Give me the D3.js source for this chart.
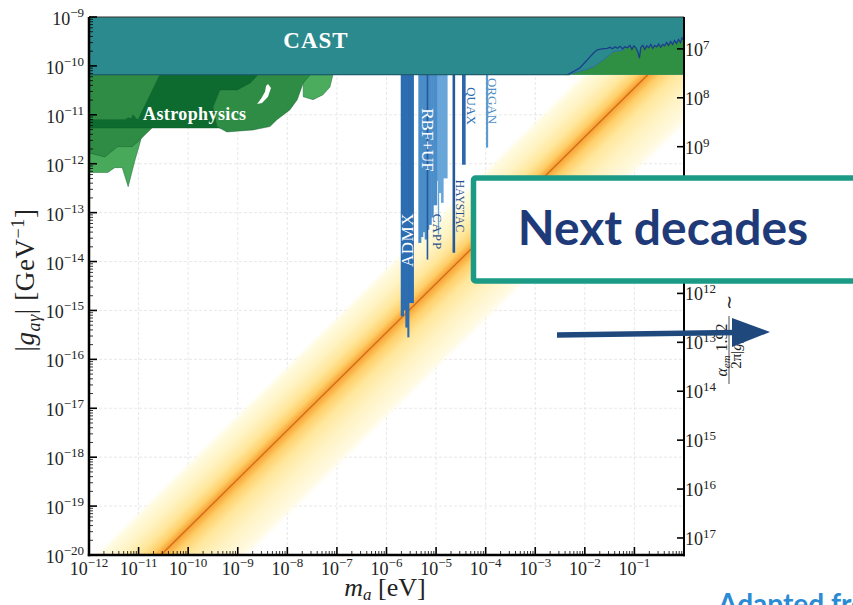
<!DOCTYPE html>
<html>
<head>
<meta charset="utf-8">
<script src="https://cdn.jsdelivr.net/npm/d3@7"></script>
<style>
  body { margin: 0; background: #fff; }
  svg  { display: block; }
</style>
</head>
<body>
<div id="chart"></div>
<script>
'use strict';

// every point is [log10(m_a / eV), log10(|g| / GeV^-1)]
const xTicks = d3.range(-12, 0);   // 10^-12 .. 10^-1
const yTicks = d3.range(-20, -8);  // 10^-20 .. 10^-9
const fTicks = d3.range(7, 18);    // 10^7 .. 10^17 (right axis)
const fConst = 2.23e-3;            // alpha_em * 1.92 / 2pi

const castLimit = -10.18;          // 6.6e-11
const castCurve = [[-2.35,-10.18],[-2.2,-10.10],[-2.1,-10.04],[-2.0,-9.93],[-1.9,-9.82],[-1.82,-9.73],
  [-1.75,-9.67],[-1.65,-9.65],[-1.55,-9.64],[-1.49,-9.62],[-1.44,-9.65],[-1.39,-9.61],[-1.34,-9.64],
  [-1.29,-9.60],[-1.24,-9.65],[-1.19,-9.61],[-1.14,-9.63],[-1.09,-9.58],[-1.05,-9.66],[-1.01,-9.59],
  [-0.97,-9.63],[-0.93,-9.72],[-0.90,-9.84],[-0.87,-9.62],[-0.83,-9.58],[-0.79,-9.66],[-0.75,-9.59],
  [-0.71,-9.63],[-0.67,-9.56],[-0.63,-9.64],[-0.59,-9.58],[-0.55,-9.61],[-0.51,-9.55],[-0.47,-9.62],
  [-0.43,-9.56],[-0.39,-9.59],[-0.35,-9.52],[-0.31,-9.58],[-0.27,-9.50],[-0.23,-9.56],[-0.19,-9.48],
  [-0.15,-9.54],[-0.11,-9.46],[-0.07,-9.52],[-0.04,-9.43],[0,-9.47]];
const castLower = [[-2.4,-10.18],[-2.24,-10.15],[-2.0,-10.08],[-1.83,-10.02],[-1.63,-9.88],[-1.43,-9.71],[-1.2,-9.67]];

// astrophysics bounds, drawn light -> dark
const astroLight = [[-12,-10.18],[-10.9,-10.18],[-10.9,-11.27],[-10.97,-11.57],[-11.07,-11.92],[-11.21,-12.47],
  [-11.33,-12.08],[-11.48,-12.08],[-11.62,-12.18],[-12,-12.18]];
const astroMid = [[-12,-10.18],[-10.57,-10.18],[-10.73,-11.27],[-10.87,-11.41],[-11.01,-11.55],[-11.13,-11.65],
  [-11.42,-11.65],[-11.68,-11.86],[-12,-11.78]];
const astroDark = [[-12,-11.10],[-11.27,-11.10],[-11.21,-11.06],[-11.15,-11.08],[-11.11,-11.00],[-11.05,-11.08],
  [-11.01,-11.10],[-10.57,-10.18],[-8.59,-10.18],[-8.95,-11.27],[-12,-11.27]];
const astroBlobLight = [[-7.68,-10.18],[-7.08,-10.18],[-7.14,-10.43],[-7.28,-10.59],[-7.48,-10.69],[-7.68,-10.63]];
const astroBlob = [[-8.59,-10.18],[-7.54,-10.18],[-7.68,-10.35],[-7.80,-10.69],[-7.95,-10.90],[-8.21,-11.10],
  [-8.35,-11.24],[-8.69,-11.31],[-9.22,-11.35],[-9.42,-11.24],[-9.50,-10.84],[-9.36,-10.49],[-9.01,-10.49],[-8.75,-10.35]];
const astroHole = [[-8.39,-10.37],[-8.33,-10.45],[-8.39,-10.63],[-8.51,-10.76],[-8.61,-10.78],[-8.53,-10.67],[-8.45,-10.53],[-8.43,-10.41]];

// haloscopes: [m from, m to, g reached]
const admx   = [[-5.713,-5.66,-15.12],[-5.66,-5.62,-15.0],[-5.62,-5.58,-15.35],[-5.58,-5.55,-15.55],[-5.55,-5.459,-14.85]];
const rbfUf  = [[-5.358,-5.31,-13.62],[-5.31,-5.27,-13.50],[-5.27,-5.23,-13.40],[-5.23,-5.19,-13.55],[-5.19,-5.15,-13.35],
  [-5.15,-5.10,-13.25],[-5.10,-5.06,-13.10],[-5.06,-4.99,-12.85]];
const capp   = [[-4.99,-4.95,-12.35],[-4.95,-4.90,-12.60],[-4.90,-4.86,-12.80],[-4.86,-4.78,-12.30],[-4.965,-4.95,-13.45]];
const sideLines = [[-5.19,-5.17,-13.96]];
const haystac = [[-4.668,-4.628,-13.82]];
const quax    = [[-4.477,-4.416,-12.02]];
const organ   = [[-3.993,-3.962,-11.67]];

// QCD axion band: central line g = m * 10^-9.45, band edges in decades of g
const qcdShift = -9.45;
const bandUp = 1.35, bandDown = 1.8;

const W = 853, H = 605;
const serif = "'Liberation Serif', 'Times New Roman', serif";
const sans  = "Lato, 'Open Sans', sans-serif";

const x = d3.scaleLog().domain([1e-12, 1]).range([89, 684]);
const y = d3.scaleLog().domain([1e-20, 1e-9]).range([555, 17]);
const yF = d3.scaleLog().domain([fConst / 1e-20, fConst / 1e-9]).range([555, 17]);
const px = d => x(Math.pow(10, d[0]));
const py = d => y(Math.pow(10, d[1]));
const path = d3.line().x(px).y(py);

let svg = d3.select('#chart').append('svg').attr('width', W).attr('height', H);
svg.append('defs').append('clipPath').attr('id', 'plotClip')
   .append('rect').attr('x', x(1e-12)).attr('y', y(1e-9))
   .attr('width', x(1) - x(1e-12)).attr('height', y(1e-20) - y(1e-9));

let plot = svg.append('g').attr('clip-path', 'url(#plotClip)');

// grid
plot.selectAll('.gx').data(xTicks.slice(1)).enter().append('line')
    .attr('x1', d => x(Math.pow(10, d))).attr('x2', d => x(Math.pow(10, d)))
    .attr('y1', y(1e-9)).attr('y2', y(1e-20))
    .attr('stroke', '#dedede').attr('stroke-width', 0.7).attr('stroke-dasharray', '3,2');
plot.selectAll('.gy').data(yTicks.slice(1, -1)).enter().append('line')
    .attr('x1', x(1e-12)).attr('x2', x(1))
    .attr('y1', d => y(Math.pow(10, d))).attr('y2', d => y(Math.pow(10, d)))
    .attr('stroke', '#dedede').attr('stroke-width', 0.7).attr('stroke-dasharray', '3,2');

// band gradient, perpendicular to the central line
let lm0 = -6, lg0 = lm0 + qcdShift;
let x0 = px([lm0, lg0]), y0 = py([lm0, lg0]);
let dx = px([lm0 + 1, lg0 + 1]) - x0, dy = py([lm0 + 1, lg0 + 1]) - y0;
let len = Math.hypot(dx, dy);
let n = [-dy / len, dx / len];               // points down-right
let sUp = (py([lm0, lg0 + bandUp]) - y0) * n[1];
let sDown = (py([lm0, lg0 - bandDown]) - y0) * n[1];
let grad = svg.select('defs').append('linearGradient').attr('id', 'band')
    .attr('gradientUnits', 'userSpaceOnUse')
    .attr('x1', x0 + sUp * n[0]).attr('y1', y0 + sUp * n[1])
    .attr('x2', x0 + sDown * n[0]).attr('y2', y0 + sDown * n[1]);
let stops = [[bandUp, '#fffbe0', 0], [1.2, '#fffbe0', 1], [0.8, '#fff3c2', 1], [0.45, '#ffe69a', 1],
             [0.2, '#ffcf6a', 1], [0.06, '#f9ad3e', 1], [0, '#f5a030', 1], [-0.06, '#f9ad3e', 1],
             [-0.25, '#ffcf6a', 1], [-0.55, '#ffe69a', 1], [-1.0, '#fff2c0', 1], [-1.6, '#fffae2', 1],
             [-bandDown, '#fffae2', 0]];
grad.selectAll('stop').data(stops).enter().append('stop')
    .attr('offset', d => (bandUp - d[0]) / (bandUp + bandDown))
    .attr('stop-color', d => d[1]).attr('stop-opacity', d => d[2]);
plot.append('rect').attr('x', x(1e-12)).attr('y', y(1e-9))
    .attr('width', x(1) - x(1e-12)).attr('height', y(1e-20) - y(1e-9))
    .attr('fill', 'url(#band)');
plot.append('path').attr('d', path([[-20 - qcdShift, -20], [castLimit - qcdShift, castLimit]]))
    .attr('stroke', '#d2691e').attr('stroke-width', 1.3).attr('fill', 'none');

// haloscopes (slight overlap so neighbouring steps join without seams)
let bars = function(data, color) {
    plot.append('g').selectAll('rect').data(data).enter().append('rect')
        .attr('x', d => x(Math.pow(10, d[0])))
        .attr('width', d => x(Math.pow(10, d[1])) - x(Math.pow(10, d[0])) + 0.6)
        .attr('y', y(1e-9))
        .attr('height', d => y(Math.pow(10, d[2])) - y(1e-9))
        .attr('fill', color);
};
bars(capp, '#68a6da');
bars(rbfUf, '#4a8dc9');
bars(admx, '#2c6cb0');
bars(sideLines, '#24599c');
bars(haystac, '#24599c');
bars(quax, '#2c66ab');
bars(organ, '#5b9bd0');

// astrophysics
let area = function(data, fill) {
    plot.append('path').attr('d', path(data) + 'Z')
        .attr('fill', fill).attr('stroke', '#0f5a28').attr('stroke-width', 0.6).attr('stroke-opacity', 0.7);
};
area(astroLight, '#48a95a');
area(astroMid, '#2f8c45');
area(astroDark, '#0d6b30');
area(astroBlobLight, '#4aac5c');
area(astroBlob, '#2f8c45');
plot.append('path').attr('d', path(astroHole) + 'Z').attr('fill', '#fff');

// CAST
plot.append('rect').attr('x', x(1e-12)).attr('y', y(1e-9))
    .attr('width', x(1) - x(1e-12)).attr('height', py([0, castLimit]) - y(1e-9))
    .attr('fill', '#2b8a8d');
let greenTop = castLower.concat(castCurve.filter(d => d[0] > -1.2));
plot.append('path').attr('d', path(greenTop.concat([[0, castLimit], [-2.4, castLimit]])) + 'Z')
    .attr('fill', '#2f8f42');
plot.append('path').attr('d', path(castLower)).attr('fill', 'none')
    .attr('stroke', '#2f6fa8').attr('stroke-width', 1);
plot.append('path').attr('d', path(castCurve)).attr('fill', 'none')
    .attr('stroke', '#1b3f8c').attr('stroke-width', 1.3);
plot.append('line').attr('x1', x(1e-12)).attr('x2', px([-2.3, 0]))
    .attr('y1', py([0, castLimit])).attr('y2', py([0, castLimit]))
    .attr('stroke', '#1d5d6e').attr('stroke-width', 1.2);

// labels inside the plot
svg.append('text').attr('x', 316).attr('y', 48).attr('text-anchor', 'middle')
   .attr('font-family', serif).attr('font-weight', 'bold').attr('font-size', 23)
   .attr('fill', '#fff').attr('letter-spacing', 1).text('CAST');
svg.append('text').attr('x', 143).attr('y', 120)
   .attr('font-family', serif).attr('font-weight', 'bold').attr('font-size', 18)
   .attr('fill', '#fff').attr('letter-spacing', 0.4).text('Astrophysics');

let vlabel = function(txt, cx, cy, rot, size, color, spacing) {
    svg.append('text').attr('transform', 'translate(' + cx + ',' + cy + ') rotate(' + rot + ')')
       .attr('text-anchor', 'middle').attr('dy', '0.35em')
       .attr('font-family', serif).attr('font-size', size).attr('fill', color)
       .attr('letter-spacing', spacing || 0).text(txt);
};
vlabel('ADMX', 407, 240, -90, 17, '#fff', 0.5);
vlabel('RBF+UF', 428, 140, 90, 17, '#fff', 0);
vlabel('CAPP', 438, 232, 90, 13, '#1f4e8c', 1);
vlabel('HAYSTAC', 460, 206, 90, 11.5, '#1f4e8c', 0);
vlabel('QUAX', 472, 106, 90, 13, '#2d6cb0', 0);
vlabel('ORGAN', 493, 101, 90, 13, '#4f8fc6', 0);

// frame
svg.append('line').attr('x1', 89).attr('x2', 684).attr('y1', 17).attr('y2', 17)
   .attr('stroke', '#333').attr('stroke-width', 1);
svg.append('line').attr('x1', 89).attr('x2', 89).attr('y1', 17).attr('y2', 556.2)
   .attr('stroke', '#000').attr('stroke-width', 2.5);
svg.append('line').attr('x1', 87.8).attr('x2', 685).attr('y1', 555).attr('y2', 555)
   .attr('stroke', '#000').attr('stroke-width', 2.5);
svg.append('line').attr('x1', 684).attr('x2', 684).attr('y1', 17).attr('y2', 556.2)
   .attr('stroke', '#000').attr('stroke-width', 2);

// ticks
let minors = function(lo, hi) {
    let out = [];
    for (let e = lo; e < hi; e++) for (let k = 2; k < 10; k++) out.push(k * Math.pow(10, e));
    return out;
};
let tickG = svg.append('g').attr('stroke', '#000');
tickG.selectAll('.mx').data(minors(-12, 0)).enter().append('line')
     .attr('x1', d => x(d)).attr('x2', d => x(d)).attr('y1', 555).attr('y2', 551).attr('stroke-width', 0.8);
tickG.selectAll('.Mx').data(xTicks).enter().append('line')
     .attr('x1', d => x(Math.pow(10, d))).attr('x2', d => x(Math.pow(10, d)))
     .attr('y1', 555).attr('y2', 547).attr('stroke-width', 1.6);
tickG.selectAll('.my').data(minors(-20, -9)).enter().append('line')
     .attr('x1', 89).attr('x2', 93).attr('y1', d => y(d)).attr('y2', d => y(d)).attr('stroke-width', 0.8);
tickG.selectAll('.My').data(yTicks).enter().append('line')
     .attr('x1', 89).attr('x2', 97)
     .attr('y1', d => y(Math.pow(10, d))).attr('y2', d => y(Math.pow(10, d))).attr('stroke-width', 1.6);
tickG.selectAll('.Mf').data(fTicks).enter().append('line')
     .attr('x1', 677).attr('x2', 684)
     .attr('y1', d => yF(Math.pow(10, d))).attr('y2', d => yF(Math.pow(10, d))).attr('stroke-width', 1.6);

let powLabel = function(sel, exp, supDy) {
    sel.append('tspan').text('10');
    sel.append('tspan').attr('font-size', 13).attr('dy', supDy)
       .text(exp < 0 ? '\u2212' + (-exp) : String(exp));
};
svg.selectAll('.lx').data(xTicks).enter().append('text')
   .attr('x', d => x(Math.pow(10, d))).attr('y', 575).attr('text-anchor', 'middle')
   .attr('font-family', serif).attr('font-size', 18).attr('fill', '#222')
   .each(function(d) { powLabel(d3.select(this), d, -8); });
svg.selectAll('.ly').data(yTicks).enter().append('text')
   .attr('x', 84).attr('y', d => y(Math.pow(10, d)) + 8).attr('text-anchor', 'end')
   .attr('font-family', serif).attr('font-size', 18).attr('fill', '#222')
   .each(function(d) { powLabel(d3.select(this), d, -8); });
svg.selectAll('.lf').data(fTicks).enter().append('text')
   .attr('x', 685).attr('y', d => yF(Math.pow(10, d)) + 7)
   .attr('font-family', serif).attr('font-size', 18).attr('fill', '#222')
   .each(function(d) { powLabel(d3.select(this), d, -7); });

// axis titles
let xt = svg.append('text').attr('x', 385).attr('y', 596).attr('text-anchor', 'middle')
   .attr('font-family', serif).attr('font-size', 26).attr('fill', '#222');
xt.append('tspan').attr('font-style', 'italic').text('m');
xt.append('tspan').attr('font-style', 'italic').attr('font-size', 17).attr('dy', 4).text('a');
xt.append('tspan').attr('dy', -4).text(' [eV]');

let yt = svg.append('text').attr('transform', 'translate(34,280) rotate(-90)').attr('text-anchor', 'middle')
   .attr('font-family', serif).attr('font-size', 27).attr('letter-spacing', 0.6).attr('fill', '#222');
yt.append('tspan').text('|');
yt.append('tspan').attr('font-style', 'italic').text('g');
yt.append('tspan').attr('font-style', 'italic').attr('font-size', 18).attr('dy', 6).text('a\u03b3');
yt.append('tspan').attr('dy', -6).text('| [GeV');
yt.append('tspan').attr('font-size', 18).attr('dy', -10).text('\u22121');
yt.append('tspan').attr('dy', 10).text(']');

// right axis title (the rest of it sits under the box)
let rt = svg.append('g').attr('transform', 'translate(730,348) rotate(-90)')
   .attr('font-family', serif).attr('fill', '#222');
rt.append('line').attr('x1', -36).attr('x2', 32).attr('y1', -1).attr('y2', -1)
  .attr('stroke', '#222').attr('stroke-width', 0.8);
let num = rt.append('text').attr('x', -2).attr('y', -3).attr('text-anchor', 'middle').attr('font-size', 16);
num.append('tspan').attr('font-style', 'italic').text('\u03b1');
num.append('tspan').attr('font-style', 'italic').attr('font-size', 11).attr('dy', 3).text('em');
num.append('tspan').attr('dy', -3).text(' 1.92');
let den = rt.append('text').attr('x', -2).attr('y', 11).attr('text-anchor', 'middle').attr('font-size', 15);
den.append('tspan').text('2\u03c0|');
den.append('tspan').attr('font-style', 'italic').text('g');
den.append('tspan').attr('font-style', 'italic').attr('font-size', 10).attr('dy', 3).text('a\u03b3');
den.append('tspan').attr('dy', -3).text('|');
rt.append('text').attr('x', 46).attr('y', 5).attr('text-anchor', 'middle').attr('font-size', 18).text('\u223c');

// overlay: box, arrow, credit
svg.append('rect').attr('x', 473.5).attr('y', 178).attr('width', 420).attr('height', 103).attr('rx', 2)
   .attr('fill', '#fff').attr('stroke', '#1b9a86').attr('stroke-width', 5.5);
svg.append('text').attr('x', 663).attr('y', 245).attr('text-anchor', 'middle')
   .attr('font-family', sans).attr('font-weight', 'bold').attr('font-size', 48)
   .attr('fill', '#1f3a78').text('Next decades');
svg.append('line').attr('x1', 557).attr('y1', 335).attr('x2', 736).attr('y2', 332.5)
   .attr('stroke', '#1f497d').attr('stroke-width', 5.5);
svg.append('path').attr('d', 'M732,318 L770,332 L732,347 Z').attr('fill', '#1f497d');
svg.append('text').attr('x', 718).attr('y', 614)
   .attr('font-family', sans).attr('font-weight', 'bold').attr('font-size', 28)
   .attr('fill', '#2b8bd4').text('Adapted from');
</script>
</body>
</html>
